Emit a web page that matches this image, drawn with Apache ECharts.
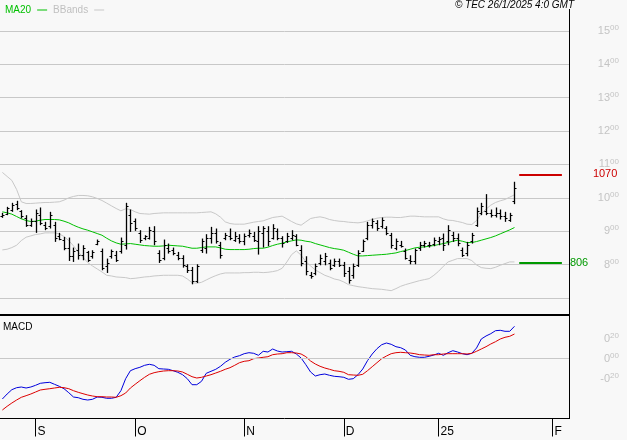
<!DOCTYPE html>
<html><head><meta charset="utf-8">
<script src="https://cdn.jsdelivr.net/npm/echarts@6/dist/echarts.min.js"></script>
<style>html,body{margin:0;padding:0;background:#f8f8f8}#c{width:627px;height:440px}</style>
</head><body><div id="c"></div>
<script>
// ---- data (trading days, Aug 22 2024 .. Jan 24 2025) ----
const open = [945,952,962,980,960,940,918,930,950,920,915,920,885,875,850,825,845,828,838,825,862,840,795,825,830,840,860,950,930,895,880,880,900,835,820,850,845,830,820,795,785,750,845,850,880,895,860,880,885,875,880,870,890,885,870,895,900,880,900,880,870,880,885,845,810,770,775,805,810,805,800,810,800,780,770,800,840,880,920,925,915,910,890,850,860,840,815,810,850,860,860,862,870,880,870,890,880,845,835,870,920,955,960,955,950,955,945,935,990];
const high = [955,973,985,991,963,948,938,965,971,928,958,928,895,883,881,851,863,858,841,843,875,848,818,845,841,881,985,965,938,903,888,913,915,843,875,863,851,838,828,801,793,801,878,891,913,908,868,895,908,898,891,893,905,898,915,915,915,921,908,885,895,903,891,858,825,778,803,830,835,815,818,818,808,793,803,843,875,928,938,933,941,915,895,878,871,848,828,848,868,871,868,881,883,893,918,898,893,851,868,895,971,985,1011,965,971,965,958,955,1048];
const low = [940,948,958,963,938,913,913,895,918,903,908,868,873,843,811,808,815,813,808,818,858,783,775,818,808,833,845,898,901,865,873,875,858,805,813,833,828,813,791,775,741,745,835,833,863,863,818,873,873,868,863,858,881,868,830,851,855,875,873,851,865,873,855,795,768,758,768,798,798,783,793,793,763,743,758,793,838,873,908,901,908,888,848,843,851,815,801,801,841,851,851,855,858,841,858,868,855,823,825,863,913,948,948,941,941,935,928,928,981];
const close = [950,968,978,968,945,920,930,955,925,910,950,880,878,850,825,840,830,850,815,838,870,790,805,840,815,870,975,925,910,875,885,905,870,815,860,840,835,820,800,785,750,795,870,880,895,870,830,890,880,885,870,885,895,875,900,910,870,910,880,865,885,890,860,805,780,765,795,820,825,790,810,800,775,755,795,835,870,920,930,910,935,895,860,870,855,820,810,845,860,865,858,875,878,860,905,880,865,830,860,890,960,975,955,950,955,945,940,950,1030];
const ma20 = [958,955,951,944,937,932,929,930,933,935,935,935,934,930,925,918,912,907,903,898,893,888,879,871,865,861,862,863,861,859,857,856,855,855,856,858,857,856,855,852,849,849,851,853,853,853,850,846,845,845,845,845,846,848,849,849,852,857,861,864,868,871,874,873,870,868,863,859,855,851,848,846,843,837,831,826,826,827,828,829,830,831,833,835,839,842,846,850,852,853,855,857,860,863,866,870,873,870,866,866,869,873,877,881,886,892,898,904,911];
const bbUpper = [1076,1064,1052,1025,988,983,983,984,985,986,986,987,988,993,1000,1004,1007,1007,1006,1003,998,992,984,976,968,961,967,965,958,953,952,951,953,954,955,955,955,955,955,955,955,955,956,957,958,952,942,928,923,921,921,921,924,927,929,931,936,941,943,945,937,929,922,918,928,938,941,943,940,935,932,930,929,927,926,925,927,931,935,939,941,942,942,941,941,943,945,945,944,943,943,943,943,937,933,932,929,926,921,920,932,952,966,978,986,991,995,1002,1009];
const bbLower = [844,846,851,858,872,882,886,890,892,895,895,895,892,884,872,856,838,822,806,796,787,778,768,766,763,762,761,758,759,761,763,764,766,767,768,768,768,768,766,757,746,744,747,754,761,767,772,775,775,775,775,776,776,777,777,776,777,779,782,789,808,830,841,828,809,796,784,776,768,763,757,754,748,740,737,734,732,730,728,727,726,724,722,728,735,740,744,748,752,755,758,768,780,795,808,813,818,818,818,812,799,791,789,788,792,798,803,808,808];
const macd = [-0.405,-0.355,-0.312,-0.292,-0.285,-0.295,-0.285,-0.268,-0.248,-0.242,-0.238,-0.258,-0.278,-0.302,-0.342,-0.385,-0.392,-0.408,-0.415,-0.408,-0.385,-0.388,-0.398,-0.398,-0.388,-0.322,-0.202,-0.122,-0.102,-0.088,-0.068,-0.058,-0.068,-0.102,-0.105,-0.108,-0.122,-0.138,-0.162,-0.202,-0.262,-0.262,-0.228,-0.148,-0.128,-0.108,-0.078,-0.038,-0.008,0.015,0.028,0.048,0.058,0.052,0.032,0.072,0.065,0.095,0.075,0.065,0.068,0.072,0.045,0.005,-0.062,-0.135,-0.175,-0.162,-0.155,-0.168,-0.178,-0.182,-0.188,-0.208,-0.202,-0.162,-0.105,-0.022,0.045,0.098,0.138,0.155,0.142,0.118,0.108,0.085,0.032,0.018,0.012,0.012,0.022,0.035,0.052,0.032,0.058,0.078,0.065,0.048,0.038,0.052,0.105,0.195,0.225,0.248,0.278,0.282,0.272,0.272,0.322];
const signal = [-0.515,-0.478,-0.445,-0.415,-0.388,-0.372,-0.355,-0.335,-0.315,-0.308,-0.302,-0.295,-0.288,-0.292,-0.302,-0.322,-0.338,-0.352,-0.365,-0.375,-0.382,-0.382,-0.385,-0.385,-0.388,-0.372,-0.345,-0.295,-0.258,-0.222,-0.188,-0.158,-0.142,-0.132,-0.125,-0.122,-0.122,-0.125,-0.135,-0.158,-0.182,-0.195,-0.188,-0.175,-0.162,-0.145,-0.128,-0.108,-0.092,-0.068,-0.042,-0.028,-0.022,-0.002,0.005,0.012,0.018,0.038,0.045,0.048,0.058,0.058,0.055,0.045,0.018,-0.025,-0.055,-0.078,-0.095,-0.108,-0.122,-0.128,-0.138,-0.162,-0.165,-0.168,-0.158,-0.122,-0.082,-0.042,-0.002,0.025,0.048,0.058,0.062,0.058,0.055,0.048,0.038,0.035,0.032,0.038,0.038,0.045,0.048,0.048,0.048,0.048,0.045,0.052,0.072,0.095,0.118,0.145,0.168,0.195,0.212,0.222,0.245];
const slotCount = 120;                 // trading-day slots incl. future space
const tickIndex = [7, 28, 51, 72, 92, 116];
const tickLabels = ['S', 'O', 'N', 'D', '25', 'F'];
const resistance = 1070, support = 806;
const headerText = '\u00A9 TEC 26/1/2025 4:0 GMT';

// ---- build ----
const cats = Array.from({length: slotCount}, (_, i) => String(i));
const ohlc = open.map((o, i) => [i, o, high[i], low[i], close[i]]);
const isTick = (idx) => tickIndex.indexOf(idx) >= 0;

const chart = echarts.init(document.getElementById('c'), null, {renderer: 'canvas'});
const gray = '#c8c8c8';
const supLabel = (intPart, frac) => '{a|' + intPart + '}{b|' + frac + '}';
const richSup = {
  a: {fontSize: 11, color: '#c4c4c4', fontFamily: 'Liberation Sans', lineHeight: 14},
  b: {fontSize: 8, color: '#c4c4c4', fontFamily: 'Liberation Sans', lineHeight: 14, verticalAlign: 'top', padding: [0, 0, 4, 0]}
};

chart.setOption({
  animation: false,
  backgroundColor: '#f8f8f8',
  legend: {
    left: 0, top: 0, align: 'right', itemGap: 6, itemWidth: 10, itemHeight: 1, icon: 'rect',
    textStyle: {fontSize: 10, fontFamily: 'Liberation Sans', padding: [0, 1, 0, 0]},
    data: [
      {name: 'MA20', textStyle: {color: '#00c000'}},
      {name: 'BBands', textStyle: {color: '#c0c0c0'}}
    ]
  },
  grid: [
    {left: 0, right: 58, top: 30.8, height: 267.2},
    {left: 0, right: 58, top: 318.5, height: 100}
  ],
  xAxis: [
    {type: 'category', gridIndex: 0, data: cats, boundaryGap: true, show: false},
    {type: 'category', gridIndex: 1, data: cats, boundaryGap: true, position: 'bottom',
      axisLine: {show: true, onZero: false, lineStyle: {color: '#000', width: 1}},
      axisTick: {show: true, inside: false, alignWithLabel: true, length: 18, interval: (i) => isTick(i), lineStyle: {color: '#000'}},
      axisLabel: {interval: (i) => isTick(i), align: 'left', margin: 7, padding: [0, 0, 0, 2],
        color: '#000', fontSize: 12, fontFamily: 'Liberation Sans',
        formatter: (v) => { const k = tickIndex.indexOf(Number(v)); return k >= 0 ? tickLabels[k] : ''; }},
      splitLine: {show: false}
    }
  ],
  yAxis: [
    {type: 'value', gridIndex: 0, position: 'right', min: 700, max: 1500, interval: 100,
      axisLine: {show: false}, axisTick: {show: false},
      splitLine: {show: true, lineStyle: {color: gray, width: 1}},
      axisLabel: {align: 'right', margin: 50,
        formatter: (v) => v === 700 ? '' : supLabel(Math.floor(v / 100), '00'),
        rich: richSup}
    },
    {type: 'value', gridIndex: 1, position: 'right', min: -0.6, max: 0.4, interval: 0.2,
      axisLine: {show: false}, axisTick: {show: false}, splitLine: {show: false},
      axisLabel: {align: 'right', margin: 50,
        formatter: (v) => {
          const c = Math.round(v * 100);
          if (c === 20) return supLabel('0', '20');
          if (c === 0) return supLabel('0', '00');
          if (c === -20) return supLabel('-0', '20');
          return '';
        },
        rich: richSup}
    }
  ],
  series: [
    {name: 'BBands', type: 'line', xAxisIndex: 0, yAxisIndex: 0, data: bbUpper, symbol: 'none',
      lineStyle: {color: gray, width: 1}, itemStyle: {color: gray}, z: 2},
    {name: 'BBands', type: 'line', xAxisIndex: 0, yAxisIndex: 0, data: bbLower, symbol: 'none',
      lineStyle: {color: gray, width: 1}, itemStyle: {color: gray}, z: 2},
    {name: 'MA20', type: 'line', xAxisIndex: 0, yAxisIndex: 0, data: ma20, symbol: 'none',
      lineStyle: {color: '#00c000', width: 1}, itemStyle: {color: '#00c000'}, z: 3,
      markLine: {silent: true, symbol: 'none',
        data: [
          [{coord: [109, resistance], lineStyle: {color: '#cc0000', width: 2, type: 'solid'},
            label: {show: true, position: 'end', distance: 31, formatter: String(resistance), color: '#cc0000', fontSize: 11, fontFamily: 'Liberation Sans'}},
           {coord: [118, resistance]}],
          [{coord: [109, support], lineStyle: {color: '#009900', width: 2, type: 'solid'},
            label: {show: true, position: 'end', distance: 8, formatter: String(support), color: '#009900', fontSize: 11, fontFamily: 'Liberation Sans'}},
           {coord: [118, support]}]
        ]}
    },
    {name: 'Price', type: 'custom', xAxisIndex: 0, yAxisIndex: 0, data: ohlc, z: 4,
      encode: {x: 0, y: [1, 2, 3, 4]},
      renderItem: (params, api) => {
        const i = api.value(0);
        const o = api.coord([i, api.value(1)]);
        const h = api.coord([i, api.value(2)]);
        const l = api.coord([i, api.value(3)]);
        const c = api.coord([i, api.value(4)]);
        const x = Math.round(h[0]) + 0.5;
        const st = {stroke: '#000', lineWidth: 1.3};
        return {type: 'group', children: [
          {type: 'line', shape: {x1: x, y1: h[1], x2: x, y2: l[1]}, style: st},
          {type: 'line', shape: {x1: x - 2, y1: Math.round(o[1]) + 0.5, x2: x, y2: Math.round(o[1]) + 0.5}, style: {stroke: '#000', lineWidth: 1}},
          {type: 'line', shape: {x1: x, y1: Math.round(c[1]) + 0.5, x2: x + 2, y2: Math.round(c[1]) + 0.5}, style: {stroke: '#000', lineWidth: 1}}
        ]};
      }
    },
    {name: 'MACD', type: 'line', xAxisIndex: 1, yAxisIndex: 1, data: macd, symbol: 'none',
      lineStyle: {color: '#0000dd', width: 1}, z: 3,
      markLine: {silent: true, symbol: 'none', label: {show: false},
        lineStyle: {color: gray, width: 1, type: 'solid'}, data: [{yAxis: 0}]}},
    {name: 'Signal', type: 'line', xAxisIndex: 1, yAxisIndex: 1, data: signal, symbol: 'none',
      lineStyle: {color: '#dd0000', width: 1}, z: 4}
  ],
  graphic: [
    {type: 'text', right: 53, top: 0, style: {text: headerText, font: 'italic 10px "Liberation Sans"', fill: '#000'}},
    {type: 'rect', shape: {x: 0, y: 314, width: 570, height: 2}, style: {fill: '#000'}},
    {type: 'line', shape: {x1: 569.5, y1: 9, x2: 569.5, y2: 419}, style: {stroke: '#000', lineWidth: 1}},
    {type: 'text', left: 3, top: 322, style: {text: 'MACD', font: '10px "Liberation Sans"', fill: '#000'}}
  ]
});
</script></body></html>
